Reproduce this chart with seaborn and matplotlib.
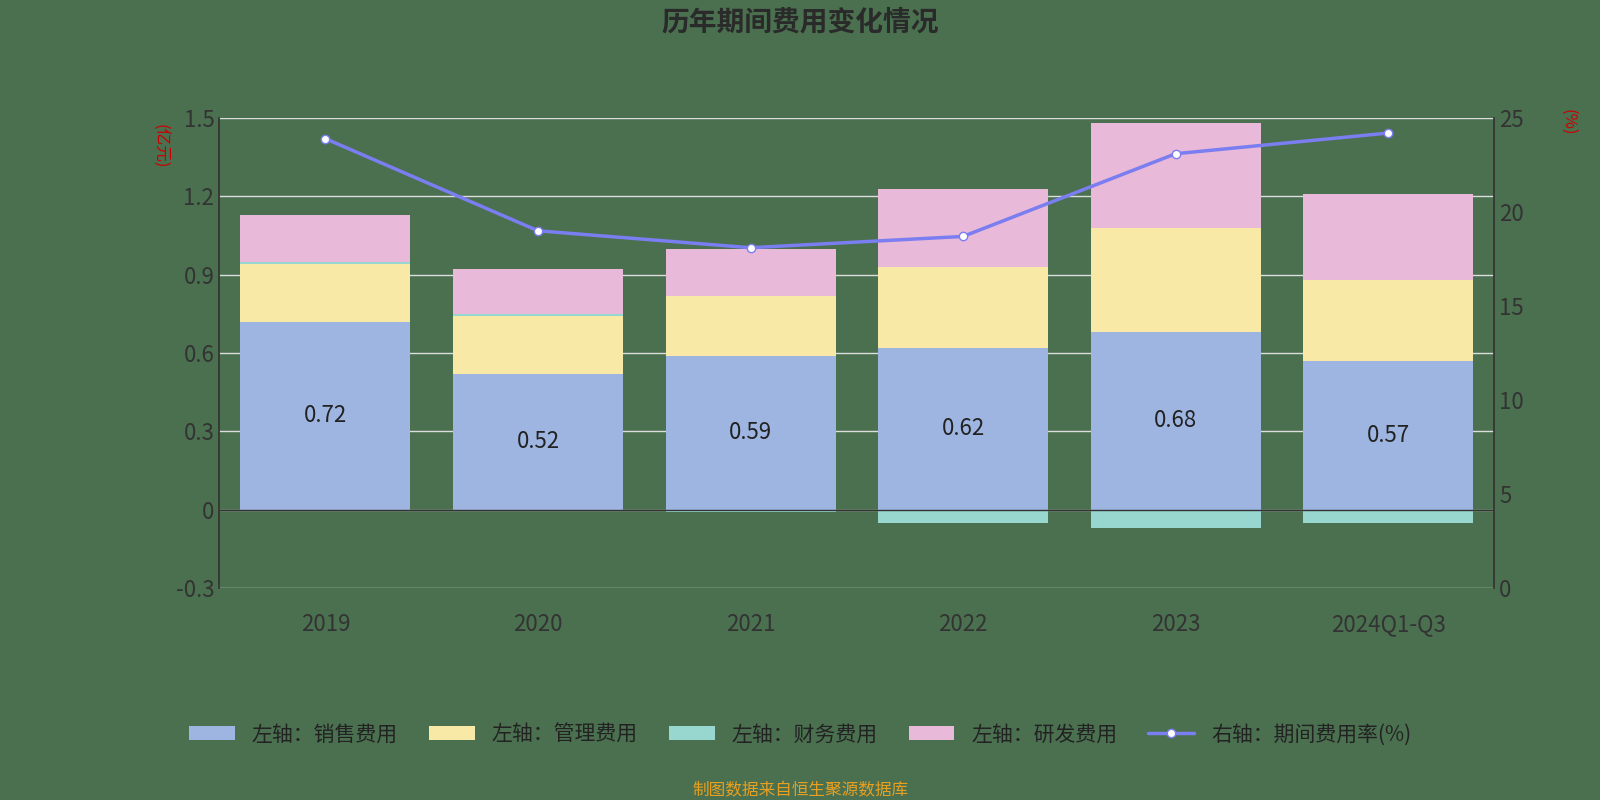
import numpy as np
import matplotlib.pyplot as plt
import seaborn as sns

years = ["2019", "2020", "2021", "2022", "2023", "2024Q1-Q3"]
sales = [0.72, 0.52, 0.59, 0.62, 0.68, 0.57]
admin = [0.22, 0.22, 0.23, 0.31, 0.40, 0.31]
finance = [0.01, 0.01, -0.01, -0.05, -0.07, -0.05]
rnd = [0.18, 0.17, 0.18, 0.30, 0.40, 0.33]
rate = [23.9, 19.0, 18.1, 18.7, 23.1, 24.2]

plt.rcParams["font.family"] = "Noto Sans CJK SC"
sns.set_theme(style="white", font="Noto Sans CJK SC")
bg = "#4a7050"
fig = plt.figure(figsize=(16, 8), dpi=100, facecolor=bg)
ax = fig.add_axes([0.137, 0.265, 0.797, 0.5875])
ax.set_facecolor(bg)

x = np.arange(len(years))
w = 0.8
colors = ["#9db5e0", "#f9e9a7", "#97d7d0", "#e8b9d9"]
pos = np.zeros(len(years))
neg = np.zeros(len(years))
for vals, c, name in zip([sales, admin, finance, rnd], colors,
                         ["左轴：销售费用", "左轴：管理费用", "左轴：财务费用", "左轴：研发费用"]):
    v = np.array(vals)
    b = np.where(v >= 0, pos, neg)
    ax.bar(x, v, w, bottom=b, color=c, label=name, zorder=2, linewidth=0)
    pos = pos + np.where(v >= 0, v, 0)
    neg = neg + np.where(v < 0, v, 0)

for xi, s in zip(x, sales):
    ax.text(xi, s / 2, f"{s:.2f}", ha="center", va="center", fontsize=16, color="#222222", zorder=3)

ax.set_ylim(-0.3, 1.5)
ax.set_yticks([-0.3, 0, 0.3, 0.6, 0.9, 1.2, 1.5])
ax.set_yticklabels(["-0.3", "0", "0.3", "0.6", "0.9", "1.2", "1.5"])
ax.set_xlim(-0.5, len(years) - 0.5)
ax.set_xticks(x)
ax.set_xticklabels(years)
ax.grid(axis="y", color="#dddddd", lw=1, zorder=0)
ax.axhline(0, color="#333333", lw=1, zorder=3)
for s in ["top", "right"]:
    ax.spines[s].set_visible(False)
ax.spines["left"].set_color("#333333")
ax.spines["bottom"].set_visible(False)
ax.tick_params(colors="#333333", labelsize=16, length=0)
ax.tick_params(axis="x", pad=18)
ax.text(-0.047, 0.94, "(亿元)", transform=ax.transAxes, rotation=-90, color="#cc0000",
        fontsize=12, ha="center", va="center")

ax2 = ax.twinx()
ax2.set_ylim(0, 25)
ax2.set_yticks([0, 5, 10, 15, 20, 25])
ax2.plot(x, rate, color="#7b7ef0", lw=2.5, marker="o", markersize=6,
         markerfacecolor="white", markeredgecolor="#7b7ef0", label="右轴：期间费用率(%)", zorder=4)
for s in ["top", "left", "bottom"]:
    ax2.spines[s].set_visible(False)
ax2.spines["right"].set_color("#333333")
ax2.tick_params(colors="#333333", labelsize=16, length=0)
ax2.text(1.058, 0.99, "(%)", transform=ax.transAxes, rotation=-90, color="#cc0000",
         fontsize=12, ha="center", va="center")

h1, l1 = ax.get_legend_handles_labels()
h2, l2 = ax2.get_legend_handles_labels()
fig.legend(h1 + h2, l1 + l2, loc="center", bbox_to_anchor=(0.5, 0.082), ncol=5,
           frameon=False, fontsize=15, labelcolor="#222222", handlelength=2.2, columnspacing=1.5)

fig.text(0.5, 0.972, "历年期间费用变化情况", ha="center", va="center", fontsize=20,
         fontweight="bold", color="#2a2a2a")
fig.text(0.5, 0.012, "制图数据来自恒生聚源数据库", ha="center", va="center", fontsize=12,
         color="#e8a020")
fig.savefig("out.png", facecolor=bg)
